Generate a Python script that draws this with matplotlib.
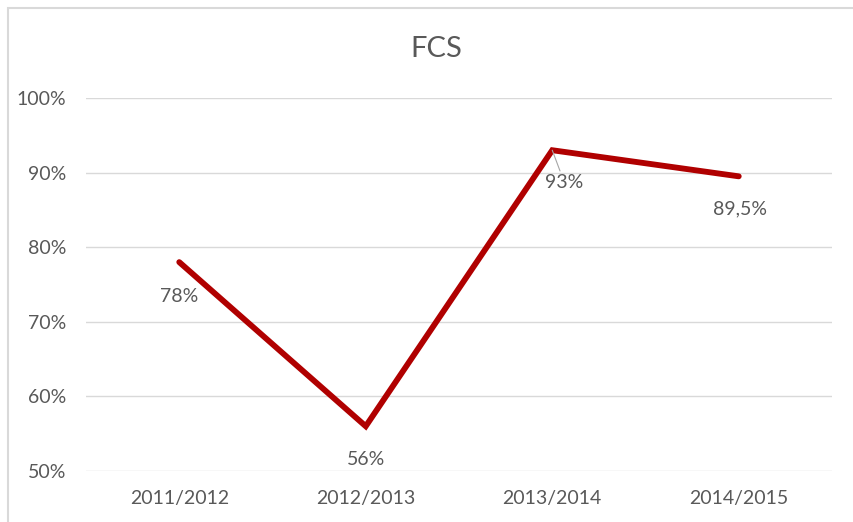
import matplotlib
matplotlib.use("Agg")
import matplotlib.pyplot as plt
from matplotlib.patches import Rectangle
from matplotlib.ticker import FuncFormatter

categories = ["2011/2012", "2012/2013", "2013/2014", "2014/2015"]
values = [78, 56, 93, 89.5]
yticks = [50, 60, 70, 80, 90, 100]
title = "FCS"

FONT = ["Lato", "DejaVu Sans"]
GRAY = "#595959"
GRID = "#D9D9D9"
LINE = "#B00000"

W, H = 854, 522
fig = plt.figure(figsize=(W / 100, H / 100), dpi=100)
fig.patch.set_facecolor("white")

# outer chart border (light gray), partially cropped at right/bottom
fig.patches.append(Rectangle((8 / W, -0.05), 1.1, 1 - 8 / H + 0.05,
                             transform=fig.transFigure, fill=False,
                             edgecolor=GRID, linewidth=1.5))

left, right = 86 / W, 832 / W
top, bottom = 1 - 98 / H, 1 - 471 / H
ax = fig.add_axes([left, bottom, right - left, top - bottom])

x = list(range(len(categories)))
ax.plot(x, values, color=LINE, linewidth=4.2, solid_capstyle="round",
        solid_joinstyle="miter", zorder=3)

ax.set_xlim(-0.5, len(categories) - 0.5)
ax.set_ylim(50, 100)
ax.set_yticks(yticks)
ax.yaxis.set_major_formatter(FuncFormatter(lambda v, p: f"{int(v)}%"))
ax.set_xticks(x)
ax.set_xticklabels(categories)

for s in ax.spines.values():
    s.set_visible(False)
ax.grid(axis="y", color=GRID, linewidth=1.0, zorder=0)
ax.set_axisbelow(True)
ax.tick_params(axis="both", length=0, labelcolor=GRAY, labelsize=14)
ax.tick_params(axis="y", pad=14)
ax.tick_params(axis="x", pad=14)
for lab in ax.get_xticklabels() + ax.get_yticklabels():
    lab.set_family(FONT)

def fmt(v):
    s = f"{v:g}".replace(".", ",")
    return s + "%"

offsets = [(0, -34), (0, -33), (12, -32), (1, -33)]
for i, v in enumerate(values):
    dx, dy = offsets[i]
    kw = {}
    if i == 2:
        kw["arrowprops"] = dict(arrowstyle="-", color="#A6A6A6", lw=0.8,
                                shrinkA=0, shrinkB=0)
    ax.annotate(fmt(v), xy=(i, v), xytext=(dx, dy), textcoords="offset pixels",
                ha="center", va="center", fontsize=14, color=GRAY,
                family=FONT, zorder=4, **kw)

fig.text(436 / W, 1 - 49 / H, title, ha="center", va="center",
         fontsize=21, color=GRAY, family=FONT)

fig.savefig("out.png", dpi=100)
